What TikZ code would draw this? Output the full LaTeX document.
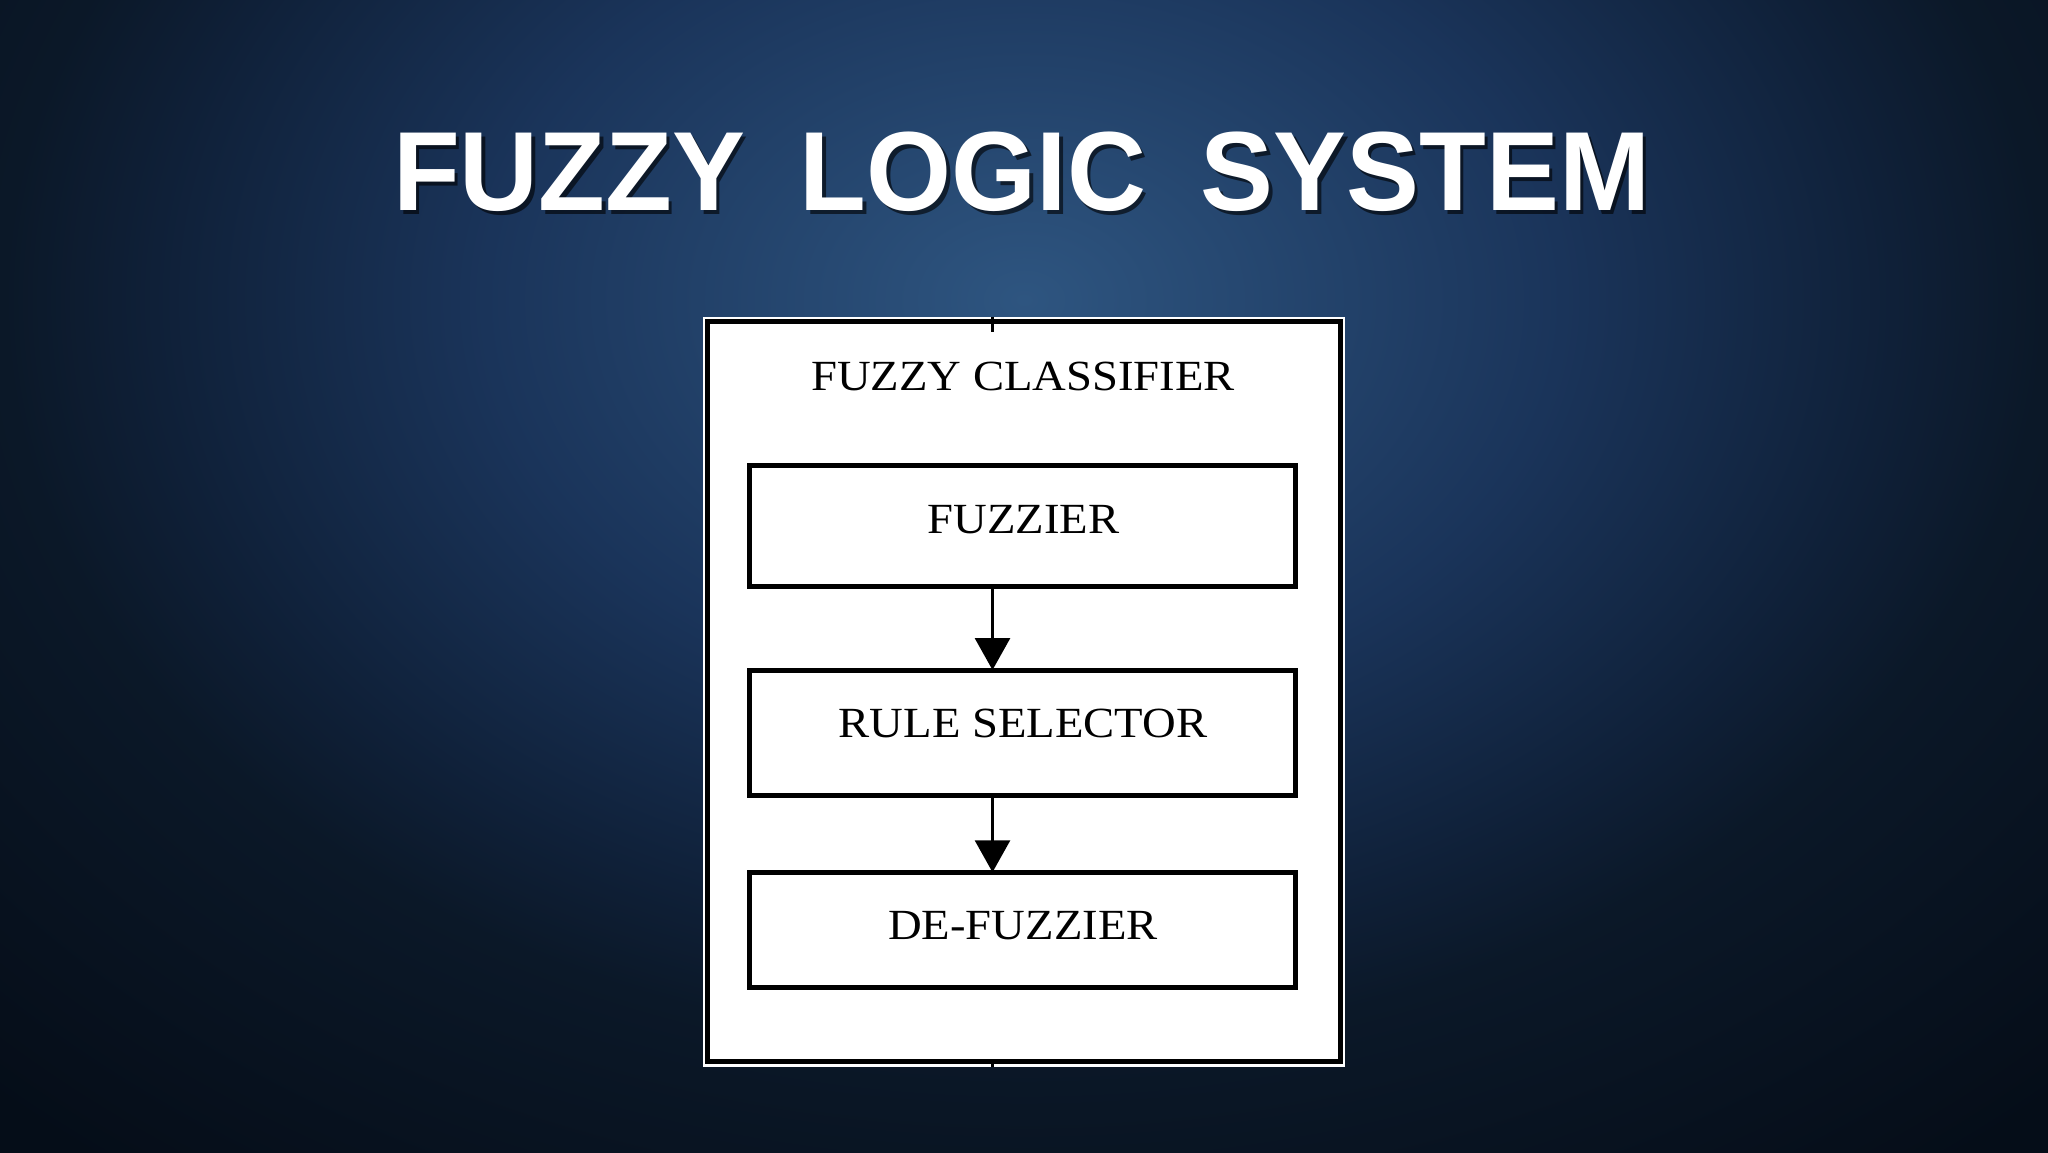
\documentclass[tikz,border=0pt]{standalone}
\usepackage{fontspec}
\usepackage{graphicx}
\setmainfont{Liberation Serif}
\newfontfamily\titlefont{Liberation Sans}
\usetikzlibrary{arrows.meta,calc}
\definecolor{bgA}{HTML}{2E5580}
\definecolor{bgB}{HTML}{1A345A}
\definecolor{bgC}{HTML}{0F2038}
\definecolor{bgD}{HTML}{0B1828}
\definecolor{bgE}{HTML}{050D18}
\pgfdeclareradialshading{bgshade}{\pgfpoint{0bp}{0bp}}{color(0bp)=(bgA); color(9bp)=(bgB); color(14.5bp)=(bgC); color(17bp)=(bgD); color(25bp)=(bgE); color(50bp)=(bgE)}
\begin{document}
\begin{tikzpicture}[x=1pt,y=-1pt,
  titletext/.style={font=\titlefont\bfseries, text=white, inner sep=0pt, outer sep=0pt, anchor=base},
  titleshade/.style={font=\titlefont\bfseries, text=black, text opacity=0.6, inner sep=0pt, outer sep=0pt, anchor=base},
  frame/.style={fill=white, draw=none, inner sep=0pt, outer sep=0pt, minimum width=642pt, minimum height=750pt},
  panel/.style={fill=white, draw=black, line width=5pt, inner sep=0pt, outer sep=0pt, minimum width=633pt, minimum height=740pt},
  stepbox/.style={fill=white, draw=black, line width=5pt, inner sep=0pt, outer sep=0pt, minimum width=546pt},
  lbl/.style={font=\fontsize{43}{50}\selectfont, text=black, inner sep=0pt, outer sep=0pt, anchor=base},
  flow/.style={draw=black, line width=3pt, -{Triangle[length=32pt,width=35pt]}},
  stubline/.style={draw=black, line width=3pt}
]
\useasboundingbox (0,0) rectangle (2048,1152);
\fill[bgE] (-20,-20) rectangle (2068,1172);
\shade[shading=bgshade] (1024,300) ellipse [x radius=1500, y radius=1100];

% title
\node[titleshade] (tshadow) at (1025,214) {\resizebox{1257pt}{78.5pt}{FUZZY\hspace{0.5em}LOGIC\hspace{0.5em}SYSTEM}};
\node[titletext] (title) at (1021.5,210) {\resizebox{1257pt}{78.5pt}{FUZZY\hspace{0.5em}LOGIC\hspace{0.5em}SYSTEM}};

% outer box
\node[frame] (frame) at (1024,691.5) {};
\node[panel] (panel) at (1023.5,691) {};

% inner boxes
\node[stepbox, minimum height=121.5pt] (fuzz) at (1022.5,526) {};
\node[stepbox, minimum height=125.5pt] (rule) at (1022.5,732.75) {};
\node[stepbox, minimum height=115.5pt] (defuzz) at (1022.5,930) {};

% labels
\node[lbl] (tclass) at (1023,390) {\scalebox{1.085}[1]{FUZZY CLASSIFIER}};
\node[lbl] (tfuzz) at (1023.5,533) {\scalebox{1.085}[1]{FUZZIER}};
\node[lbl] (trule) at (1023,737) {\scalebox{1.085}[1]{RULE SELECTOR}};
\node[lbl] (tdefuzz) at (1023,939) {\scalebox{1.085}[1]{DE-FUZZIER}};

% connectors
\coordinate (ax) at (992.5,0);
\draw[flow] (fuzz.south -| ax) -- (rule.north -| ax);
\draw[flow] (rule.south -| ax) -- (defuzz.north -| ax);
\coordinate (topstub) at ($(panel.north -| ax)+(0,11)$);
\draw[stubline] (frame.north -| ax) -- (topstub);
\draw[stubline] (panel.south -| ax) -- (frame.south -| ax);
\end{tikzpicture}
\end{document}
